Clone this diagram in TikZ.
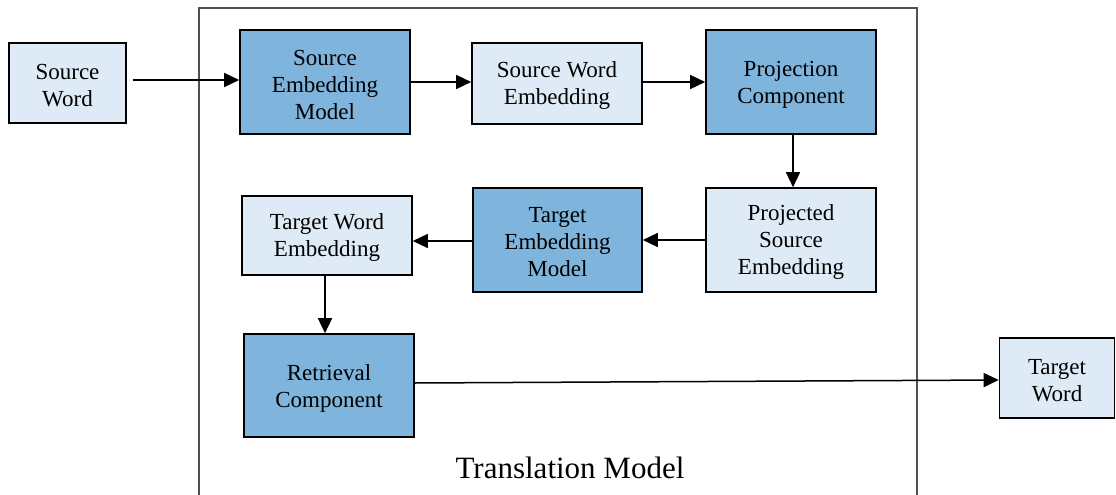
\documentclass[tikz,border=0pt]{standalone}
\usepackage{fontspec}
\setmainfont{Liberation Serif}
\usetikzlibrary{arrows.meta}
\definecolor{darkfill}{RGB}{127,180,220}
\definecolor{lightfill}{RGB}{222,234,246}
\definecolor{framegray}{RGB}{80,80,80}
\begin{document}
\begin{tikzpicture}[x=1pt,y=-1pt,
  lbl/.style={align=center,inner sep=0pt,yshift=-2.5pt,
    font=\fontsize{23}{27}\selectfont},
  box/.style={draw=black,line width=1.6pt,inner sep=0pt,
    label={[lbl]center:{#1}}},
  dark/.style={box={#1},fill=darkfill,minimum width=170pt,minimum height=104pt},
  light/.style={box={#1},fill=lightfill},
  conn/.style={line width=1.5pt,-{Triangle[length=15pt,width=14pt]}}]
\useasboundingbox (0,0) rectangle (1116,495);
\draw[framegray,line width=1.5pt] (199,500) -- (199,8) -- (917,8) -- (917,500);
\node[light={Source\\Word},minimum width=117pt,minimum height=80pt] (sw) at (67.5,83) {};
\node[dark={Source\\Embedding\\Model}] (sem) at (325,82) {};
\node[light={Source Word\\Embedding},minimum width=170pt,minimum height=81pt] (swe) at (557,83.5) {};
\node[dark={Projection\\Component}] (pc) at (791,82) {};
\node[light={Projected\\Source\\Embedding},minimum width=170pt,minimum height=104pt] (pse) at (791,240) {};
\node[dark={Target\\Embedding\\Model},minimum width=169pt] (tem) at (557.5,240) {};
\node[light={Target Word\\Embedding},minimum width=170pt,minimum height=79pt] (twe) at (327,235.5) {};
\node[dark={Retrieval\\Component},minimum height=103pt] (rc) at (329,385.5) {};
\node[light={Target\\Word},minimum width=115pt,minimum height=80pt] (tw) at (1057,378) {};
\node[font=\fontsize{31}{36}\selectfont] (tm) at (570,468) {Translation Model};
\draw[conn,shorten <=6pt] (sw.east|-0,80) -- (sem.west|-0,80);
\draw[conn] (sem.east|-0,82) -- (swe.west|-0,82);
\draw[conn] (swe.east|-0,82) -- (pc.west|-0,82);
\draw[conn] (pc.south-|793,0) -- (pse.north-|793,0);
\draw[conn] (pse.west) -- (tem.east);
\draw[conn] (tem.west|-0,241) -- (twe.east|-0,241);
\draw[conn] (twe.south-|325,0) -- (rc.north-|325,0);
\draw[conn] (rc.east|-0,383) -- (tw.west|-0,380);
\end{tikzpicture}
\end{document}
